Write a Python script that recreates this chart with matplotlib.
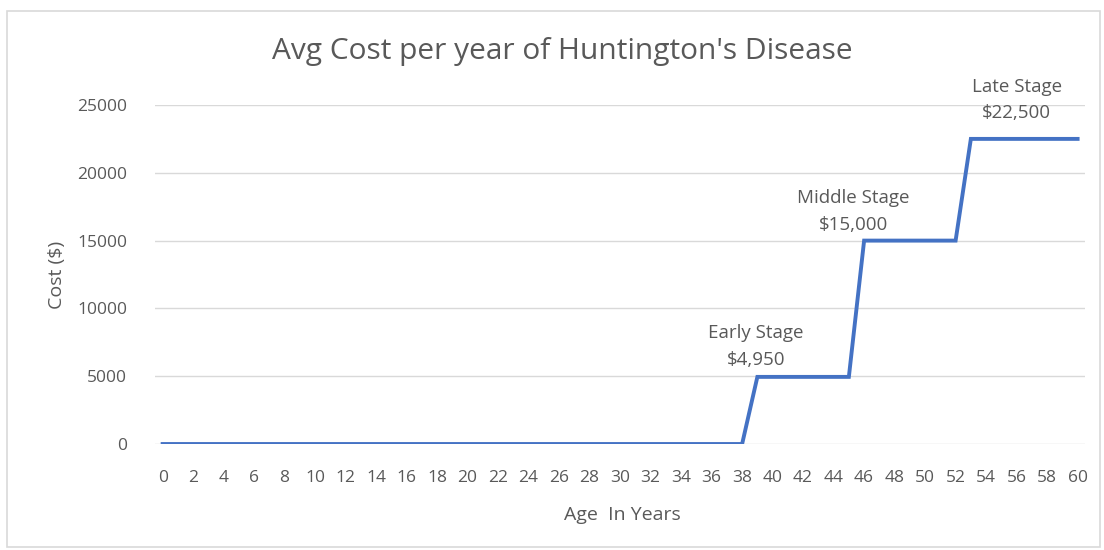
import matplotlib.pyplot as plt
from matplotlib.patches import Rectangle

# ages 0..60 and yearly cost
ages = list(range(0, 61))
cost = [0] * 39 + [4950] * 7 + [15000] * 7 + [22500] * 8

stage_names = ["Early Stage", "Middle Stage", "Late Stage"]
stage_costs = [4950, 15000, 22500]
stage_text = ["$4,950", "$15,000", "$22,500"]
# where each data label sits (age it is centred on)
label_ages = [38.9, 45.3, 56.0]
label_lift = [6, 5, 12]

plt.rcParams["font.family"] = ["Open Sans", "DejaVu Sans"]
text_color = "#595959"

fig = plt.figure(figsize=(11.04, 5.5), dpi=100)
fig.patches.append(Rectangle((0.006, 0.005), 0.99, 0.975, transform=fig.transFigure,
                             fill=False, edgecolor="#D9D9D9", linewidth=1.2))

ax = fig.add_axes([0.1404, 0.1927, 0.8426, 0.6164])
ax.plot(ages, cost, color="#4472C4", linewidth=2.8, solid_joinstyle="miter", zorder=3)

ax.set_xlim(-0.5, 60.5)
ax.set_ylim(0, 25000)
ax.set_yticks(range(0, 25001, 5000))
ax.set_xticks(ages[::2])
ax.tick_params(axis="both", length=0, labelsize=12.5, colors=text_color)
ax.tick_params(axis="y", pad=20)
ax.tick_params(axis="x", pad=19)
ax.grid(axis="y", color="#D9D9D9", linewidth=1)
ax.set_axisbelow(True)
for s in ax.spines.values():
    s.set_visible(False)

for name, a, c, t, lift in zip(stage_names, label_ages, stage_costs, stage_text, label_lift):
    ax.annotate(f"{name}\n{t}", xy=(a, c), xytext=(0, lift), textcoords="offset points",
                ha="center", va="bottom", fontsize=13.5, color=text_color, linespacing=1.6)

fig.text(0.509, 0.907, "Avg Cost per year of Huntington's Disease", ha="center", va="center",
         fontsize=21.5, color=text_color)
fig.text(0.052, 0.5, "Cost ($)", rotation=90, ha="center", va="center", fontsize=14, color=text_color)
fig.text(0.564, 0.064, "Age  In Years", ha="center", va="center", fontsize=14, color=text_color)

fig.savefig("out.png", dpi=100)
